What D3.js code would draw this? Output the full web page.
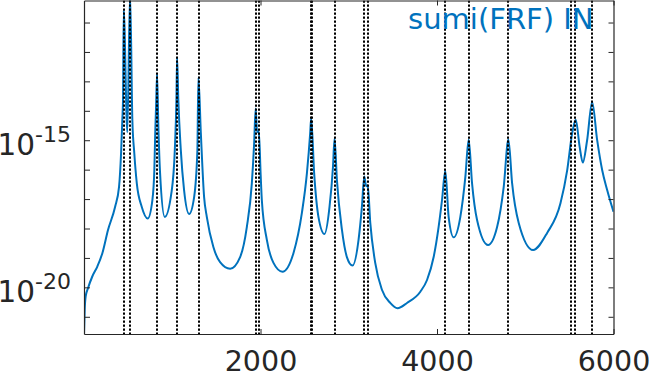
<!DOCTYPE html>
<html>
<head>
<meta charset="utf-8">
<script src="https://cdn.jsdelivr.net/npm/d3@7"></script>
<style>
  body { margin: 0; background: #fff; }
  svg { display: block; font-family: "DejaVu Sans", sans-serif; }
</style>
</head>
<body>
<div class="chartHolder"></div>
<script>
// chart data
const freq = [
  0, 8, 19, 45, 94, 151, 208, 272, 352, 397, 420, 434, 442, 450, 491, 522,
  548, 570, 598, 654, 722, 775, 797, 806, 817, 828, 843, 862, 915, 990, 1029, 1047,
  1055, 1069, 1097, 1134, 1191, 1248, 1285, 1296, 1324, 1361, 1392, 1466, 1542,
  1656, 1769, 1845, 1902, 1928, 1945, 1962, 1981, 2002, 2015, 2072, 2147, 2249,
  2374, 2469, 2526, 2563, 2574, 2608, 2657, 2725, 2782, 2821, 2839, 2866, 2923,
  2979, 3043, 3111, 3149, 3176, 3198, 3215, 3244, 3300, 3376, 3470, 3553, 3660,
  3811, 3887, 3962, 4018, 4057, 4094, 4132, 4189, 4264, 4321, 4359, 4397, 4454,
  4579, 4681, 4756, 4809, 4851, 4926, 5089, 5248, 5399, 5475, 5532, 5572, 5617,
  5652, 5701, 5758, 5815, 5872, 5929, 6000
];

const sumiFrf = [
  2.6e-22, 1.74e-21, 4.9e-21, 9.3e-21, 2.34e-20, 5.1e-20, 1.45e-19, 8.9e-19,
  5.4e-18, 2.6e-17, 3.6e-16, 4.8e-15, 2.3e-14, 2.6e-11, 1.86e-15, 1e-10,
  4.8e-15, 3.6e-16, 3.5e-17, 5.5e-18, 2.2e-18, 9.3e-18, 9.5e-17, 1.3e-15, 1.5e-14,
  1.74e-13, 2.75e-15, 7.6e-17, 2.45e-18, 1.58e-17, 4.6e-16, 2.3e-14,
  6.5e-13, 2.3e-14, 4.6e-16, 2.0e-17, 3.1e-18, 1.17e-17, 4.6e-16, 1.38e-13,
  1.74e-15, 1.17e-17, 2.45e-18, 2.34e-19, 7.2e-20,
  4.3e-20, 1.07e-19, 1.12e-18, 3.5e-17, 7.9e-16, 1.2e-14, 1.86e-15, 2.0e-15,
  6.5e-17, 9.3e-18, 4.1e-19, 6.8e-20, 3.4e-20,
  1.48e-19, 3.4e-18, 7.6e-17, 1.74e-15, 5.6e-15, 7.6e-17, 2.45e-18, 6.5e-19,
  5.4e-18, 1.2e-16, 1.15e-15, 4.4e-17, 8.9e-19,
  1.07e-19, 5.5e-20, 4.1e-19, 5.4e-18, 5.8e-17, 2.75e-17, 2.95e-17, 1.55e-18,
  6.8e-20, 8.3e-21, 2.95e-21, 1.95e-21, 2.95e-21,
  7.1e-21, 1.78e-20, 1.07e-19, 1.12e-18, 9.3e-18, 9.1e-17, 2.45e-18, 5.0e-19,
  2.45e-18, 5.6e-17, 1.05e-15, 3.5e-17, 1.95e-18,
  2.75e-19, 1.12e-18, 2.6e-17, 1.05e-15, 3.5e-17, 1.55e-18, 1.86e-19, 7.1e-19,
  7.2e-18, 9.5e-17, 1.74e-15, 5.0e-15, 5.8e-16,
  1.74e-16, 1.0e-15, 2.0e-14, 1.0e-15, 9.5e-17, 2.0e-17, 3.7e-18
];

// natural frequencies marked with dotted lines
const modeFreq = [
  450, 522, 828, 1055, 1300, 1945, 1985, 2570, 2586, 2839, 3176, 3213,
  4094, 4359, 4809, 5523, 5569, 5758
];

const xLimits = [0, 6000];
const yLimits = [2.6e-22, 5.6e-11];
const xTicks = [2000, 4000, 6000];
const yTicks = [1e-21, 1e-20, 1e-19, 1e-18, 1e-17, 1e-16, 1e-15, 1e-14, 1e-13, 1e-12, 1e-11];
const yLabelExp = [-20, -15];
const legendText = "sumi(FRF) IN";

// init variables.
const width = 649;
const height = 374;
const plotLeft = 84;
const plotRight = 613.5;
const plotTop = 0.5;
const plotBottom = 334;
const axisColor = "#262626";
const lineColor = "#0072BD";

let svg = d3
  .select(".chartHolder")
  .append("svg")
  .attr("width", width)
  .attr("height", height);

let xScale = d3.scaleLinear().domain(xLimits).range([plotLeft, plotRight]);
let yScale = d3.scaleLog().domain(yLimits).range([plotBottom, plotTop]);

svg.append("clipPath")
  .attr("id", "plotClip")
  .append("rect")
  .attr("x", plotLeft)
  .attr("y", plotTop)
  .attr("width", plotRight - plotLeft)
  .attr("height", plotBottom - plotTop);

// curve
let points = freq.map((f, i) => [f, sumiFrf[i]]);

let line = d3.line()
  .x((d) => xScale(d[0]))
  .y((d) => yScale(d[1]))
  .curve(d3.curveMonotoneX);

svg.append("path")
  .datum(points)
  .attr("clip-path", "url(#plotClip)")
  .attr("d", line)
  .attr("fill", "none")
  .attr("stroke", lineColor)
  .attr("stroke-width", 2)
  .attr("stroke-linejoin", "round");

// dotted lines at the modes, snapped to whole pixels so they stay crisp
svg.append("g")
  .attr("clip-path", "url(#plotClip)")
  .selectAll("line")
  .data(modeFreq)
  .enter()
  .append("line")
  .attr("x1", (d) => Math.round(xScale(d)))
  .attr("x2", (d) => Math.round(xScale(d)))
  .attr("y1", plotTop)
  .attr("y2", plotBottom)
  .attr("stroke", "#000")
  .attr("stroke-width", 2)
  .attr("stroke-dasharray", "2.3,1.7");

// axes
let xAxis = d3.axisBottom(xScale)
  .tickValues(xTicks)
  .tickSizeInner(-5)
  .tickSizeOuter(0)
  .tickPadding(17)
  .tickFormat(d3.format("d"));

let gx = svg.append("g")
  .attr("transform", "translate(0," + plotBottom + ")")
  .call(xAxis);

let xTop = d3.axisTop(xScale)
  .tickValues(xTicks)
  .tickSizeInner(-5)
  .tickSizeOuter(0)
  .tickFormat("");

svg.append("g")
  .attr("transform", "translate(0," + plotTop + ")")
  .call(xTop);

let yAxis = d3.axisLeft(yScale)
  .tickValues(yTicks)
  .tickSizeInner(-6)
  .tickSizeOuter(0)
  .tickFormat("");

svg.append("g")
  .attr("transform", "translate(" + plotLeft + ",0)")
  .call(yAxis);

let yRight = d3.axisRight(yScale)
  .tickValues(yTicks)
  .tickSizeInner(-5)
  .tickSizeOuter(0)
  .tickFormat("");

svg.append("g")
  .attr("transform", "translate(" + plotRight + ",0)")
  .call(yRight);

svg.selectAll(".domain").attr("stroke", axisColor).attr("stroke-width", 1.2);
svg.selectAll(".tick line").attr("stroke", axisColor);

gx.selectAll("text")
  .attr("fill", axisColor)
  .style("font-size", "28.5px")
  .style("font-family", "DejaVu Sans");

// y labels as 10^n
let yLabels = svg.append("g")
  .selectAll("text")
  .data(yLabelExp)
  .enter()
  .append("text")
  .attr("x", 71)
  .attr("y", (d) => yScale(Math.pow(10, d)) + 14.5)
  .attr("text-anchor", "end")
  .attr("fill", axisColor);

yLabels.append("tspan")
  .style("font-size", "29.5px")
  .text("10");

yLabels.append("tspan")
  .attr("dy", -13)
  .style("font-size", "22px")
  .text((d) => d);

// legend text
svg.append("text")
  .attr("x", 593.5)
  .attr("y", 29)
  .attr("text-anchor", "end")
  .attr("fill", lineColor)
  .style("font-size", "29px")
  .text(legendText);
</script>
</body>
</html>
